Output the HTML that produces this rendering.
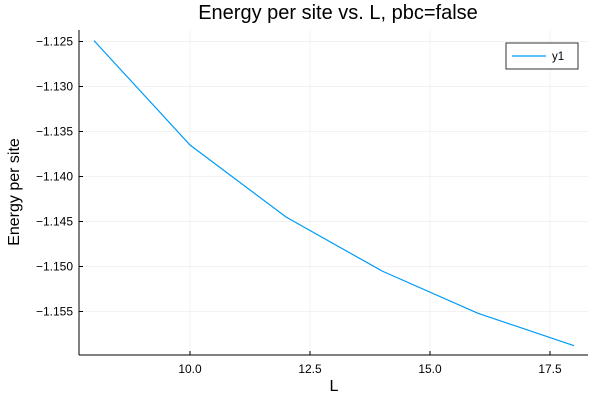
<!DOCTYPE html>
<html><head><meta charset="utf-8"><style>
html,body{margin:0;padding:0;background:#fff;}
svg text{font-family:"Liberation Sans","DejaVu Sans",sans-serif;}
</style></head><body>
<svg id="chart" width="600" height="400" xmlns="http://www.w3.org/2000/svg">
<text x="338" y="19" font-size="20" text-anchor="middle" fill="#000">Energy per site vs. L, pbc=false</text>
<text x="334" y="391" font-size="16" text-anchor="middle">L</text>
<text transform="translate(19,192) rotate(-90)" font-size="16" text-anchor="middle">Energy per site</text>
<g id="grid"></g><g id="axes"></g><g id="series"></g>
<g>
<rect x="506" y="43" width="72" height="26" fill="#fff" stroke="#000" stroke-width="0.8"/>
<line x1="512" y1="56" x2="546" y2="56" stroke="#009af9" stroke-width="1.2"/>
<text x="552" y="60" font-size="11.5">y1</text>
</g>
</svg>
<script>
const xs = [8, 10, 12, 14, 16, 18];
const ys = [-1.1249, -1.1365, -1.1445, -1.1505, -1.1552, -1.1588];
const xTicks = [10.0, 12.5, 15.0, 17.5];
const xTickLabels = ["10.0", "12.5", "15.0", "17.5"];
const yTicks = [-1.125, -1.130, -1.135, -1.140, -1.145, -1.150, -1.155];
const yTickLabels = ["\u22121.125", "\u22121.130", "\u22121.135", "\u22121.140", "\u22121.145", "\u22121.150", "\u22121.155"];
const NS = "http://www.w3.org/2000/svg";
const L = 79, R = 588, T = 30, B = 355;
const xS = v => 190 + (v - 10) * 48;
const yS = v => 41.5 + (-1.125 - v) * 9000;
function mk(tag, attrs, parent) { const e = document.createElementNS(NS, tag); for (const k in attrs) e.setAttribute(k, attrs[k]); parent.appendChild(e); return e; }
const grid = document.getElementById('grid'), axes = document.getElementById('axes'), series = document.getElementById('series');
xTicks.forEach((t, i) => {
  const g = mk('line', {x1: xS(t), x2: xS(t), y1: T, y2: B, stroke: '#000', 'stroke-opacity': 0.1, 'stroke-width': 0.5}, grid);
  
  
  mk('line', {x1: xS(t), x2: xS(t), y1: B, y2: B - 4, stroke: '#000', 'stroke-width': 1}, axes);
  const tx = mk('text', {x: xS(t), y: B + 18, 'font-size': 12, 'text-anchor': 'middle'}, axes);
  tx.textContent = xTickLabels[i];
  
  
});
yTicks.forEach((t, i) => {
  const g = mk('line', {x1: L, x2: R, y1: yS(t), y2: yS(t), stroke: '#000', 'stroke-opacity': 0.1, 'stroke-width': 0.5}, grid);
  
  
  mk('line', {x1: L, x2: L + 4, y1: yS(t), y2: yS(t), stroke: '#000', 'stroke-width': 1}, axes);
  const tx = mk('text', {x: L - 6, y: yS(t) + 4, 'font-size': 12, 'text-anchor': 'end'}, axes);
  tx.textContent = yTickLabels[i];
  
  
});
const xa = mk('line', {x1: L, x2: R, y1: B, y2: B, stroke: '#000', 'stroke-width': 1}, axes);


const ya = mk('line', {x1: L, x2: L, y1: T, y2: B, stroke: '#000', 'stroke-width': 1}, axes);


const pl = mk('polyline', {points: xs.map((x, i) => xS(x) + ',' + yS(ys[i])).join(' '), fill: 'none', stroke: '#009af9', 'stroke-width': 1.2}, series);


</script>
</body></html>
